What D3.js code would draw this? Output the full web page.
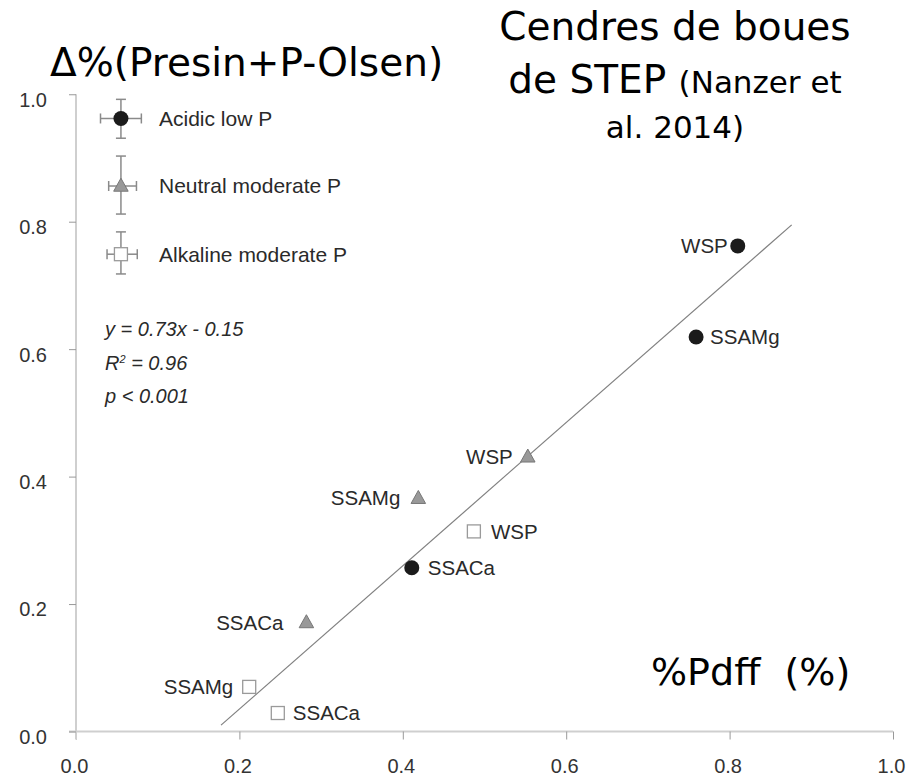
<!DOCTYPE html>
<html>
<head>
<meta charset="utf-8">
<script src="https://cdn.jsdelivr.net/npm/d3@7"></script>
<style>
  body { margin: 0; background: #fff; }
  svg { display: block; }
  .axis path { stroke: #cfcfcf; stroke-width: 2; }
  .axis line { stroke: #999; }
  .axis text { font-family: "Liberation Sans", Arial, sans-serif; font-size: 20px; fill: #333; }
</style>
</head>
<body>
<div class="container"></div>
<script>
// point data
var pointLabels = ["WSP", "SSAMg", "SSACa"];
var acidicX = [0.810, 0.759, 0.411];
var acidicY = [0.762, 0.619, 0.257];
var neutralX = [0.553, 0.419, 0.282];
var neutralY = [0.431, 0.366, 0.171];
var alkalineX = [0.487, 0.212, 0.247];
var alkalineY = [0.314, 0.070, 0.029];

// legend entries: mean with error bars (in data units)
var legendNames = ["Acidic low P", "Neutral moderate P", "Alkaline moderate P"];
var legendX = [0.055, 0.055, 0.055];
var legendXLo = [0.030, 0.040, 0.038];
var legendXHi = [0.080, 0.074, 0.075];
var legendY = [0.962, 0.856, 0.749];
var legendYLo = [0.931, 0.812, 0.718];
var legendYHi = [0.992, 0.903, 0.784];

// regression line ends
var fitX = [0.1775, 0.876];
var fitY = [0.010, 0.795];

var xTicks = [0, 0.2, 0.4, 0.6, 0.8, 1.0];
var yTicks = [0, 0.2, 0.4, 0.6, 0.8, 1.0];
var eqLines = ["y = 0.73x - 0.15", "R", "p < 0.001"];

const WIDTH = 914;
const HEIGHT = 779;

// label placement: offset from marker centre (negative = label on the left)
var labelOffsets = {
    acidic: [-10, 14, 16],
    neutral: [-15, -18, -23],
    alkaline: [17, -16, 15]
};

var xScale = d3.scaleLinear().domain([0, 1]).range([76, 893]);
var yScale = d3.scaleLinear().domain([0, 1]).range([731.5, 94.25]);

var drawMarker = function (g, kind, cx, cy) {
    if (kind == 'acidic') {
        g.append('circle').attr('cx', cx).attr('cy', cy).attr('r', 7.5)
            .style('fill', '#1b1b1b');
    } else if (kind == 'neutral') {
        var h = 13, w = 14.5;
        g.append('path')
            .attr('d', 'M' + cx + ',' + (cy - h * 0.6) + 'L' + (cx + w / 2) + ',' + (cy + h * 0.4) +
                'L' + (cx - w / 2) + ',' + (cy + h * 0.4) + 'Z')
            .style('fill', '#999').style('stroke', '#777').style('stroke-width', 1);
    } else {
        g.append('rect').attr('x', cx - 6.5).attr('y', cy - 6.5).attr('width', 13).attr('height', 13)
            .style('fill', '#fff').style('stroke', '#9a9a9a').style('stroke-width', 1.3);
    }
};

var visualize = function () {
    var svg = d3.select('.container').append('svg')
        .attr('width', WIDTH).attr('height', HEIGHT);

    svg.append('rect').attr('width', WIDTH).attr('height', HEIGHT).style('fill', '#fff');

    var xAxis = d3.axisBottom(xScale).tickValues(xTicks).tickFormat(d3.format('.1f'))
        .tickSize(8).tickSizeOuter(0).tickPadding(19.5);
    var yAxis = d3.axisLeft(yScale).tickValues(yTicks).tickFormat(d3.format('.1f'))
        .tickSize(7).tickSizeOuter(0).tickPadding(22);

    var gx = svg.append('g').classed('axis', true)
        .attr('transform', 'translate(0,' + yScale(0) + ')').call(xAxis);
    gx.select('.domain').attr('d', 'M' + (xScale(0) - 7) + ',0H' + xScale(1));
    gx.selectAll('.tick text').attr('dx', -2);

    var gy = svg.append('g').classed('axis', true)
        .attr('transform', 'translate(' + xScale(0) + ',0)').call(yAxis);
    gy.select('.domain').attr('d', 'M0,' + yScale(1) + 'V' + (yScale(0) + 8));
    gy.selectAll('.tick text').attr('y', 5.5);

    // fit line
    svg.append('line')
        .attr('x1', xScale(fitX[0])).attr('y1', yScale(fitY[0]))
        .attr('x2', xScale(fitX[1])).attr('y2', yScale(fitY[1]))
        .style('stroke', '#808080').style('stroke-width', 1.2);

    // legend with error bars
    var kinds = ['acidic', 'neutral', 'alkaline'];
    var legend = svg.append('g');
    legendNames.forEach(function (name, i) {
        var cx = xScale(legendX[i]), cy = yScale(legendY[i]);
        var x0 = xScale(legendXLo[i]), x1 = xScale(legendXHi[i]);
        var y0 = yScale(legendYLo[i]), y1 = yScale(legendYHi[i]);
        var err = legend.append('g').style('stroke', '#8a8a8a').style('stroke-width', 1.5);
        err.append('line').attr('x1', x0).attr('x2', x1).attr('y1', cy).attr('y2', cy);
        err.append('line').attr('x1', x0).attr('x2', x0).attr('y1', cy - 5).attr('y2', cy + 5);
        err.append('line').attr('x1', x1).attr('x2', x1).attr('y1', cy - 5).attr('y2', cy + 5);
        err.append('line').attr('x1', cx).attr('x2', cx).attr('y1', y0).attr('y2', y1);
        err.append('line').attr('x1', cx - 5).attr('x2', cx + 5).attr('y1', y0).attr('y2', y0);
        err.append('line').attr('x1', cx - 5).attr('x2', cx + 5).attr('y1', y1).attr('y2', y1);
        drawMarker(legend, kinds[i], cx, cy);
        legend.append('text')
            .attr('x', 159).attr('y', cy).attr('dy', '0.35em')
            .style('font-family', '"Liberation Sans", Arial, sans-serif')
            .style('font-size', '21px').style('fill', '#2a2a2a')
            .text(name);
    });

    // points
    var series = [
        {kind: 'acidic', xs: acidicX, ys: acidicY},
        {kind: 'neutral', xs: neutralX, ys: neutralY},
        {kind: 'alkaline', xs: alkalineX, ys: alkalineY}
    ];
    var pts = svg.append('g');
    series.forEach(function (s) {
        s.xs.forEach(function (xv, i) {
            var cx = xScale(xv), cy = yScale(s.ys[i]);
            drawMarker(pts, s.kind, cx, cy);
            var off = labelOffsets[s.kind][i];
            pts.append('text')
                .attr('x', cx + off).attr('y', cy).attr('dy', '0.35em')
                .attr('text-anchor', off < 0 ? 'end' : 'start')
                .style('font-family', '"Liberation Sans", Arial, sans-serif')
                .style('font-size', '20.5px').style('fill', '#2a2a2a')
                .text(pointLabels[i]);
        });
    });

    // equation block
    var eq = svg.append('g')
        .style('font-family', '"Liberation Sans", Arial, sans-serif')
        .style('font-size', '20px').style('font-style', 'italic').style('fill', '#2a2a2a');
    eq.append('text').attr('x', 105).attr('y', 336).text(eqLines[0]);
    var r2 = eq.append('text').attr('x', 105).attr('y', 370);
    r2.append('tspan').text(eqLines[1]);
    r2.append('tspan').attr('dy', -7).style('font-size', '11px').text('2');
    r2.append('tspan').attr('dy', 7).text(' = 0.96');
    eq.append('text').attr('x', 105).attr('y', 403).text(eqLines[2]);

    // titles
    var titleFont = '"DejaVu Sans", sans-serif';
    svg.append('text').attr('x', 50).attr('y', 76)
        .style('font-family', titleFont).style('font-size', '39px').style('fill', '#000')
        .text('\u0394%(Presin+P-Olsen)');

    var t = svg.append('g').attr('text-anchor', 'middle')
        .style('font-family', titleFont).style('fill', '#000');
    t.append('text').attr('x', 675).attr('y', 40).style('font-size', '39px').text('Cendres de boues');
    var l2 = t.append('text').attr('x', 675).attr('y', 93).style('font-size', '39px');
    l2.append('tspan').text('de STEP ');
    l2.append('tspan').style('font-size', '31px').text('(Nanzer et');
    t.append('text').attr('x', 675).attr('y', 138).style('font-size', '31px').text('al. 2014)');

    svg.append('text').attr('x', 651).attr('y', 685)
        .attr('xml:space', 'preserve').style('white-space', 'pre')
        .style('font-family', titleFont).style('font-size', '38px').style('fill', '#000')
        .text('%Pdff  (%)');
};

window.onload = visualize;
</script>
</body>
</html>
